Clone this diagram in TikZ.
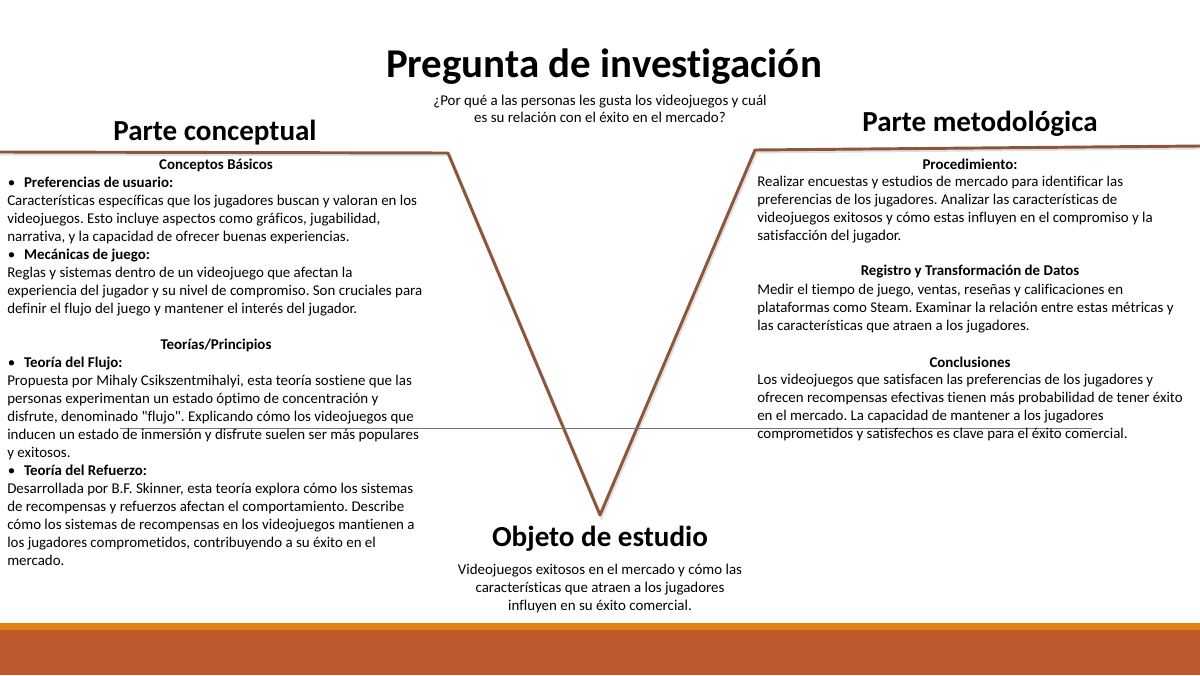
\documentclass[tikz,border=0pt]{standalone}
\usepackage{fontspec}
\setmainfont{Carlito}[Ligatures=CommonOff]
\usetikzlibrary{positioning}
\frenchspacing

\definecolor{vbrown}{RGB}{140,86,60}
\definecolor{bandorange}{RGB}{227,131,22}
\definecolor{bandrust}{RGB}{190,89,45}

\tikzset{
  body/.style={inner sep=0pt, align=left, anchor=north west,
    font=\fontsize{11.2}{13.5}\selectfont},
  centred/.style={inner sep=0pt, align=center,
    font=\fontsize{11.2}{13.2}\selectfont},
  subhead/.style={inner sep=0pt, font=\bfseries\fontsize{11.2}{13.5}\selectfont},
  parte/.style={inner sep=0pt, font=\bfseries\fontsize{21.8}{26}\selectfont},
  vline/.style={line width=2.2pt, vbrown, line join=round},
}
\newcommand{\bul}[1]{\hspace*{0.5pt}\textbullet\hspace{6.5pt}\textbf{#1}}

\begin{document}
\begin{tikzpicture}[x=0.75pt, y=-0.75pt]
  \useasboundingbox (0,0) rectangle (1200,675);

  % V shape
  \draw[line width=2.2pt, black!12] (0,154) -- (449.5,155) -- (601.5,517) -- (756.5,152) -- (1200,148);
  \draw[vline] (0,152) -- (448,153) -- (600,515) -- (755,150) -- (1200,146);
  \draw[very thin, black!55] (120,428) -- (1092,428);

  % bottom bands
  \fill[bandorange] (0,623) rectangle (1200,630);
  \fill[bandrust]   (0,630) rectangle (1200,675);

  % titles
  \node[inner sep=0pt, font=\bfseries\fontsize{30.7}{36}\selectfont] (pregunta) at (604,67) {Pregunta de investigación};
  \node[centred] (question) at (600,109) {¿Por qué a las personas les gusta los videojuegos y cuál\\es su relación con el éxito en el mercado?};
  \node[parte] (conceptual) at (215,133) {Parte conceptual};
  \node[parte] (metodo) at (980,124) {Parte metodológica};
  \node[parte] (objeto) at (600,539) {Objeto de estudio};
  \node[centred, font=\fontsize{11.2}{13.5}\selectfont] (objtext) at (600,589) {Videojuegos exitosos en el mercado y cómo las\\características que atraen a los jugadores\\influyen en su éxito comercial.};

  % left block
  \node[subhead] (basicos) at (216,165) {Conceptos Básicos};
  \node[body] (prefs) at (7,177) {\bul{Preferencias de usuario:}\\
    Características específicas que los jugadores buscan y valoran en los\\
    videojuegos. Esto incluye aspectos como gráficos, jugabilidad,\\
    narrativa, y la capacidad de ofrecer buenas experiencias.\\
    \bul{Mecánicas de juego:}\\
    Reglas y sistemas dentro de un videojuego que afectan la\\
    experiencia del jugador y su nivel de compromiso. Son cruciales para\\
    definir el flujo del juego y mantener el interés del jugador.};
  \node[subhead] (teorias) at (216,345) {Teorías/Principios};
  \node[body] (flujo) at (7,357) {\bul{Teoría del Flujo:}\\
    Propuesta por Mihaly Csikszentmihalyi, esta teoría sostiene que las\\
    personas experimentan un estado óptimo de concentración y\\
    disfrute, denominado \textquotedbl flujo\textquotedbl. Explicando cómo los videojuegos que\\
    inducen un estado de inmersión y disfrute suelen ser más populares\\
    y exitosos.\\
    \bul{Teoría del Refuerzo:}\\
    Desarrollada por B.F. Skinner, esta teoría explora cómo los sistemas\\
    de recompensas y refuerzos afectan el comportamiento. Describe\\
    cómo los sistemas de recompensas en los videojuegos mantienen a\\
    los jugadores comprometidos, contribuyendo a su éxito en el\\
    mercado.};

  % right block
  \node[subhead] (proced) at (970,164) {Procedimiento:};
  \node[body] (procedtext) at (757,175.5) {Realizar encuestas y estudios de mercado para identificar las\\
    preferencias de los jugadores. Analizar las características de\\
    videojuegos exitosos y cómo estas influyen en el compromiso y la\\
    satisfacción del jugador.};
  \node[subhead] (registro) at (970,272) {Registro y Transformación de Datos};
  \node[body] (registrotext) at (757,283.5) {Medir el tiempo de juego, ventas, reseñas y calificaciones en\\
    plataformas como Steam. Examinar la relación entre estas métricas y\\
    las características que atraen a los jugadores.};
  \node[subhead] (conclus) at (970,362) {Conclusiones};
  \node[body] (conclustext) at (757,373.5) {Los videojuegos que satisfacen las preferencias de los jugadores y\\
    ofrecen recompensas efectivas tienen más probabilidad de tener éxito\\
    en el mercado. La capacidad de mantener a los jugadores\\
    comprometidos y satisfechos es clave para el éxito comercial.};
\end{tikzpicture}
\end{document}
